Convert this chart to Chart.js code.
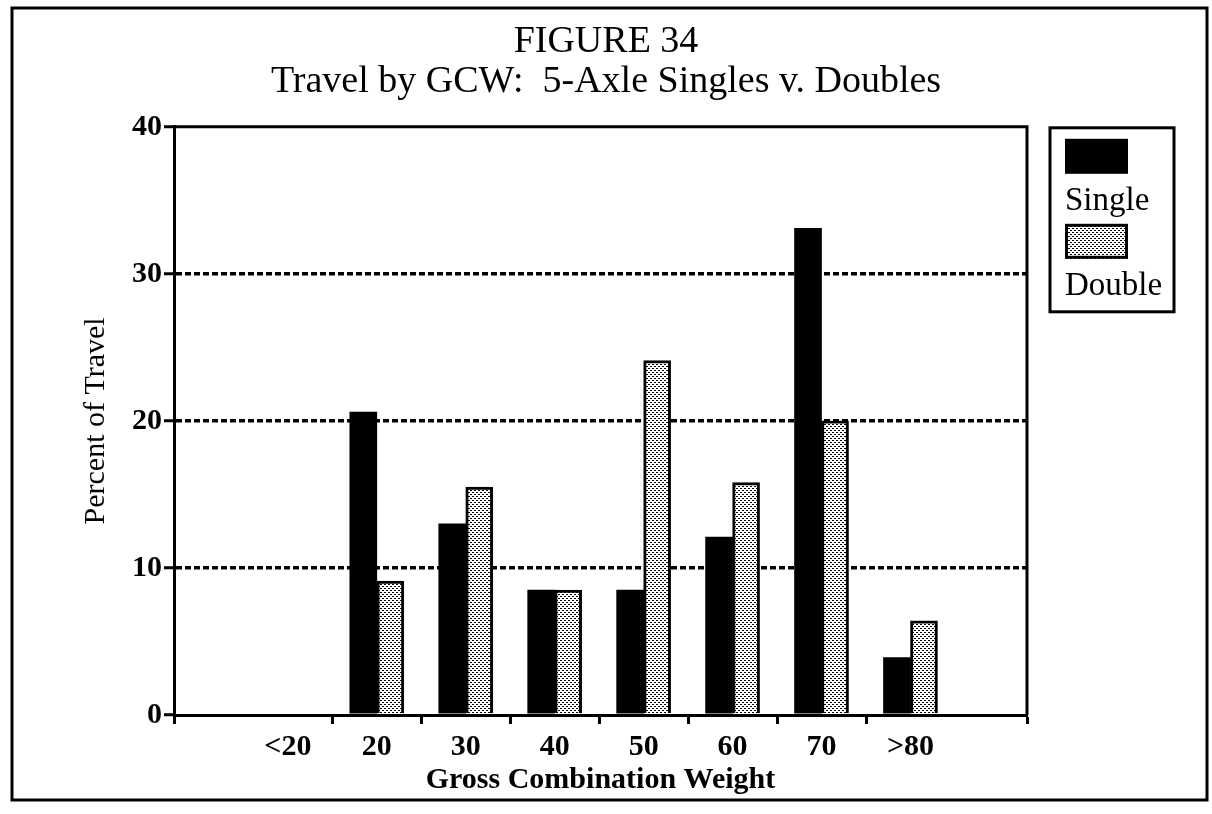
<!DOCTYPE html>
<html>
<head>
<meta charset="utf-8">
<title>Figure 34</title>
<script src="https://cdn.jsdelivr.net/npm/chart.js@4.4.1/dist/chart.umd.min.js"></script>
<style>
  body { margin: 0; background: #fff; }
</style>
</head>
<body>
<canvas id="chart" width="1212" height="814"></canvas>
<script>
const categories = ['<20', '20', '30', '40', '50', '60', '70', '>80'];
const seriesNames = ['Single', 'Double'];
const singleValues = [0, 20.6, 13.0, 8.5, 8.5, 12.1, 33.1, 3.9];
const doubleValues = [0, 9.1, 15.5, 8.5, 24.1, 15.8, 20.0, 6.4];
const yTickValues = [0, 10, 20, 30, 40];

const serif = "'Liberation Serif', 'Times New Roman', serif";
Chart.defaults.color = '#000';
Chart.defaults.font.family = serif;

const canvas = document.getElementById('chart');
const ctx = canvas.getContext('2d');

// stippled fill for the doubles
const tile = document.createElement('canvas');
tile.width = 4; tile.height = 4;
const t = tile.getContext('2d');
t.fillStyle = '#fff';
t.fillRect(0, 0, 4, 4);
t.fillStyle = '#000';
t.fillRect(0, 0, 2, 1);
t.fillRect(2, 2, 2, 1);
const stipple = ctx.createPattern(tile, 'repeat');

const xMin = -1.28, xMax = 8.31;

const frameAndLegend = {
  id: 'frameAndLegend',
  afterDraw(chart) {
    const c = chart.ctx, a = chart.chartArea;
    c.save();
    c.strokeStyle = '#000';
    c.lineWidth = 3;
    c.setLineDash([]);
    // plot box top + right
    c.beginPath();
    c.moveTo(a.left, a.top);
    c.lineTo(a.right, a.top);
    c.lineTo(a.right, a.bottom);
    c.stroke();
    // outer frame
    c.strokeRect(12, 8, chart.width - 17, chart.height - 22);

    // legend
    const lx = a.right + 23, ly = a.top + 1;
    c.strokeRect(lx, ly, 124, 184);
    c.font = '33px ' + serif;
    c.textBaseline = 'alphabetic';
    c.textAlign = 'left';
    chart.data.datasets.forEach((ds, i) => {
      const sy = ly + 11 + i * 85;
      c.fillStyle = ds.backgroundColor;
      c.fillRect(lx + 15, sy, 63, 35);
      if (ds.borderWidth) {
        c.lineWidth = 3;
        c.strokeRect(lx + 16.5, sy + 1.5, 60, 32);
      }
      c.fillStyle = '#000';
      c.fillText(ds.label, lx + 15, sy + 71);
    });
    c.restore();
  }
};

new Chart(ctx, {
  type: 'bar',
  data: {
    datasets: [
      {
        label: seriesNames[0],
        data: singleValues.map((v, i) => ({ x: i, y: v })),
        backgroundColor: '#000',
        borderWidth: 0,
      },
      {
        label: seriesNames[1],
        data: doubleValues.map((v, i) => ({ x: i, y: v })),
        backgroundColor: stipple,
        borderColor: '#000',
        borderWidth: 3,
      }
    ]
  },
  options: {
    responsive: false,
    animation: false,
    events: [],
    barThickness: 27,
    layout: { padding: { top: 0, left: 0, right: 0, bottom: 14 } },
    plugins: {
      legend: { display: false },
      tooltip: { enabled: false },
      title: {
        display: true,
        text: ['FIGURE 34', 'Travel by GCW:  5-Axle Singles v. Doubles'],
        font: { family: serif, size: 38, weight: 'normal', lineHeight: 1.05 },
        color: '#000',
        padding: { top: 22, bottom: 25 }
      }
    },
    scales: {
      x: {
        type: 'linear',
        position: 'bottom',
        min: xMin,
        max: xMax,
        offset: false,
        afterBuildTicks: s => {
          const ticks = [{ value: xMin }];
          categories.forEach((c, i) => {
            ticks.push({ value: i });
            if (i < categories.length - 1) ticks.push({ value: i + 0.5 });
          });
          ticks.push({ value: xMax });
          s.ticks = ticks;
        },
        afterFit: s => { s.height = 85; },
        grid: {
          offset: false,
          drawOnChartArea: false,
          drawTicks: true,
          tickLength: 9,
          tickWidth: 3,
          tickColor: c => (c.tick && Number.isInteger(c.tick.value)) ? 'rgba(0,0,0,0)' : '#000'
        },
        border: { color: '#000', width: 3 },
        ticks: {
          autoSkip: false,
          maxRotation: 0,
          padding: 5,
          font: { family: serif, size: 30, weight: 'bold' },
          callback: v => Number.isInteger(v) && v >= 0 && v < categories.length ? categories[v] : ''
        },
        title: {
          display: true,
          text: 'Gross Combination Weight',
          font: { family: serif, size: 30, weight: 'bold' },
          padding: { top: 0, bottom: 2 }
        }
      },
      y: {
        min: yTickValues[0],
        max: yTickValues[yTickValues.length - 1],
        afterBuildTicks: s => { s.ticks = yTickValues.map(v => ({ value: v })); },
        afterFit: s => { s.width = 174; },
        grid: {
          color: c => (c.tick && c.tick.value > 0 && c.tick.value < 40) ? '#000' : 'rgba(0,0,0,0)',
          lineWidth: 3.5,
          tickColor: '#000',
          tickBorderDash: [],
          tickLength: 10,
          tickWidth: 3
        },
        border: { color: '#000', width: 3, dash: [6, 3] },
        ticks: {
          padding: 2,
          font: { family: serif, size: 30, weight: 'bold' }
        },
        title: {
          display: true,
          text: 'Percent of Travel',
          font: { family: serif, size: 30, weight: 'normal' },
          padding: { top: 78, bottom: 0 }
        }
      },
      legendSpace: {
        type: 'linear',
        position: 'right',
        display: true,
        grid: { display: false },
        border: { display: false },
        ticks: { display: false },
        afterFit: s => { s.width = 185; }
      }
    }
  },
  plugins: [frameAndLegend]
});
</script>
</body>
</html>
